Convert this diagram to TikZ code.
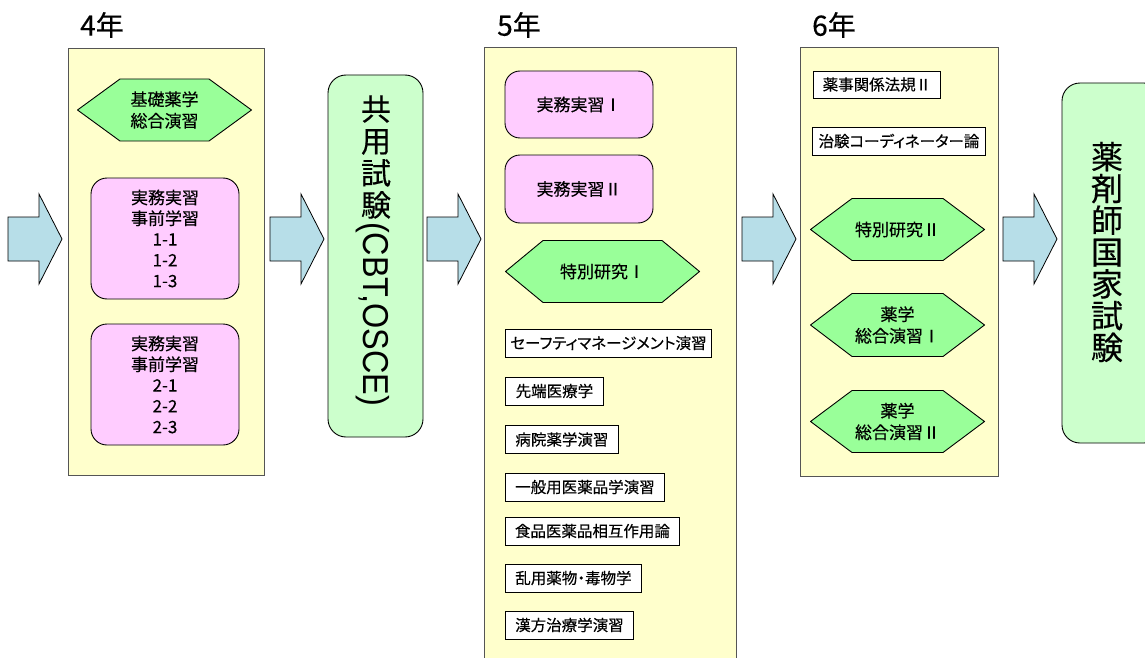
\documentclass[tikz,border=0pt]{standalone}
\usepackage{fontspec}
\usepackage{graphicx}
\setmainfont{Noto Sans CJK JP}[RawFeature={embolden=0.35}]
\newfontfamily\pjp{Noto Sans CJK JP}[RawFeature={+palt;embolden=0.35}]
\newfontfamily\lat{Liberation Sans}
\definecolor{colbg}{HTML}{FFFFCC}
\definecolor{pinkbg}{HTML}{FFCCFF}
\definecolor{hexgreen}{HTML}{99FF99}
\definecolor{lightgreen}{HTML}{CCFFCC}
\definecolor{arrowblue}{HTML}{B7DEE8}
\definecolor{colline}{HTML}{555555}
\tikzset{
  colbox/.style={draw=colline, fill=colbg, line width=1pt, inner sep=0pt},
  yearlabel/.style={anchor=west, inner sep=0pt, font=\fontsize{28}{32}\selectfont},
  pinkbox/.style={draw=black, fill=pinkbg, line width=0.9pt, rounded corners=16pt,
    align=center, inner sep=0pt, font=\fontsize{17}{20.8}\selectfont},
  whitebox/.style={draw=black, fill=white, line width=0.9pt, inner sep=0pt,
    minimum height=28pt, font=\pjp\fontsize{15.5}{18}\selectfont},
  greenbox/.style={draw=black, fill=lightgreen, line width=0.9pt, rounded corners=18pt, inner sep=0pt},
  hexa/.style={fill=colbg, inner sep=0pt, align=center, font=\fontsize{17}{21.5}\selectfont,
    path picture={
      \filldraw[fill=hexgreen, draw=black, line width=0.9pt]
        ([xshift=0.5pt]path picture bounding box.west) --
        ([xshift=#1, yshift=-0.5pt]path picture bounding box.north west) --
        ([xshift=-#1, yshift=-0.5pt]path picture bounding box.north east) --
        ([xshift=-0.5pt]path picture bounding box.east) --
        ([xshift=-#1, yshift=0.5pt]path picture bounding box.south east) --
        ([xshift=#1, yshift=0.5pt]path picture bounding box.south west) -- cycle;}},
  barrow/.pic={
    \filldraw[fill=arrowblue, draw=black, line width=0.8pt]
      (-27,-22) -- (4,-22) -- (4,-45) -- (27,0) -- (4,45) -- (4,22) -- (-27,22) -- cycle;}
}
\begin{document}
\begin{tikzpicture}[x=1pt, y=-1pt]
\path[use as bounding box, clip] (0,0) rectangle (1145,658);
\fill[white] (0,0) rectangle (1145,658);

% columns
\node[colbox, minimum width=196pt, minimum height=426pt] (col4) at (166,262) {};
\node[colbox, minimum width=252pt, minimum height=620pt] (col5) at (610,358) {};
\node[colbox, minimum width=198pt, minimum height=428pt] (col6) at (899,262) {};

% year labels
\node[yearlabel] (y4) at (80,25) {4年};
\node[yearlabel] (y5) at (497,25) {5年};
\node[yearlabel] (y6) at (812,25) {6年};

% block arrows
\pic (a1) at (35,239) {barrow};
\pic (a2) at (297,239) {barrow};
\pic (a3) at (454,239) {barrow};
\pic (a4) at (769,239) {barrow};
\pic (a5) at (1030,239) {barrow};

% 4th year
\node[hexa=43pt, minimum width=175pt, minimum height=63pt] (h4) at (164.5,110) {基礎薬学\\総合演習};
\node[pinkbox, minimum width=148pt, minimum height=121pt] (p41) at (165,238.5) {実務実習\\事前学習\\1-1\\1-2\\1-3};
\node[pinkbox, minimum width=148pt, minimum height=121pt] (p42) at (165,384.5) {実務実習\\事前学習\\2-1\\2-2\\2-3};

% common exam
\node[greenbox, minimum width=95pt, minimum height=362pt] (cbt) at (375.5,256) {};
\node[align=center, inner sep=0pt, font=\fontsize{30}{32}\selectfont] (cbtj) at (376,157) {共\\用\\試\\験};
\node[rotate=-90, anchor=west, inner sep=0pt] (cbtl) at (372.5,222)
  {\scalebox{0.9}[1]{\lat\fontsize{36}{40}\selectfont (CBT,OSCE)}};

% 5th year
\node[pinkbox, rounded corners=15pt, minimum width=148pt, minimum height=67pt] (p51) at (579,104.5) {実務実習Ⅰ};
\node[pinkbox, rounded corners=15pt, minimum width=148pt, minimum height=68pt] (p52) at (579,189) {実務実習Ⅱ};
\node[hexa=38pt, minimum width=195pt, minimum height=63pt] (h5) at (602.5,271.5) {特別研究Ⅰ};
\node[whitebox, minimum width=206pt, anchor=west] (w51) at (505,343) {セーフティマネージメント演習};
\node[whitebox, minimum width=98pt, anchor=west] (w52) at (505,391) {先端医療学};
\node[whitebox, minimum width=113pt, anchor=west] (w53) at (505,439.5) {病院薬学演習};
\node[whitebox, minimum width=159pt, anchor=west] (w54) at (505,487) {一般用医薬品学演習};
\node[whitebox, minimum width=174pt, anchor=west] (w55) at (505,531) {食品医薬品相互作用論};
\node[whitebox, minimum width=136pt, anchor=west] (w56) at (505,578) {乱用薬物・毒物学};
\node[whitebox, minimum width=128pt, anchor=west] (w57) at (505,625) {漢方治療学演習};

% 6th year
\node[whitebox, minimum width=127pt, minimum height=27pt, anchor=west] (w61) at (813,84.5) {薬事関係法規Ⅱ};
\node[whitebox, minimum width=173pt, anchor=west] (w62) at (812,141) {治験コーディネーター論};
\node[hexa=42pt, minimum width=175pt, minimum height=63pt] (h61) at (897.5,229.5) {特別研究Ⅱ};
\node[hexa=42pt, minimum width=175pt, minimum height=64pt] (h62) at (897.5,325) {薬学\\総合演習Ⅰ};
\node[hexa=42pt, minimum width=175pt, minimum height=63pt] (h63) at (897.5,421.5) {薬学\\総合演習Ⅱ};

% national exam
\node[greenbox, minimum width=100pt, minimum height=360pt] (exam) at (1112,263) {};
\node[align=center, inner sep=0pt, font=\fontsize{32}{31.8}\selectfont] (examt) at (1107,252) {薬\\剤\\師\\国\\家\\試\\験};
\end{tikzpicture}
\end{document}
